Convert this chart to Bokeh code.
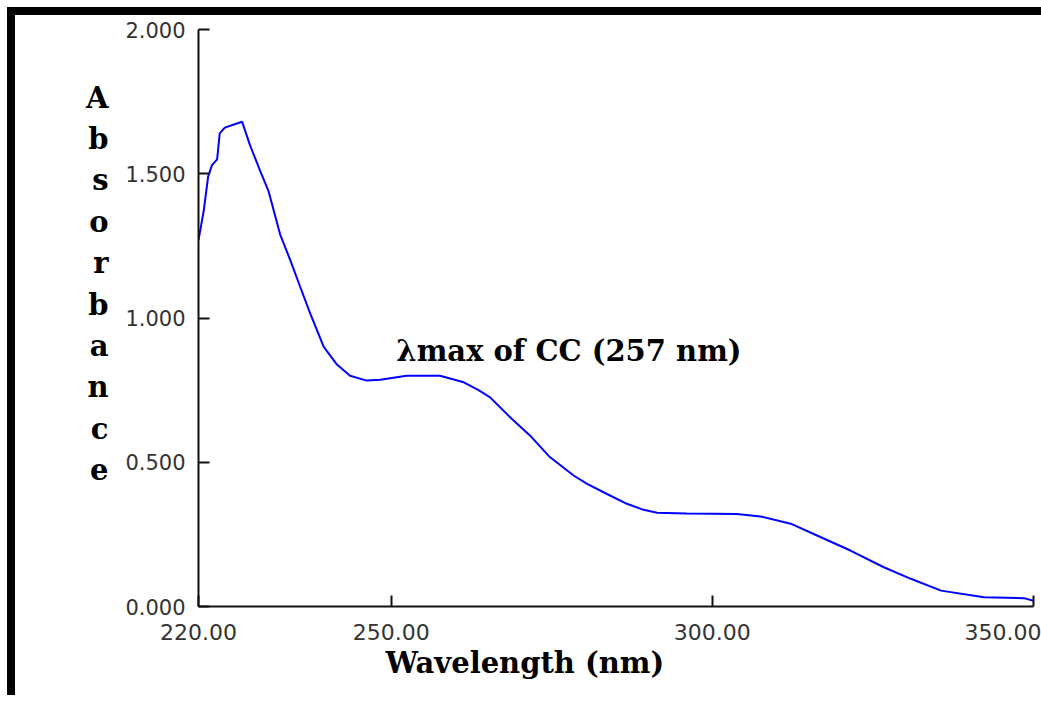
from bokeh.plotting import figure
from bokeh.models import Range1d, FixedTicker, PrintfTickFormatter, Label, LinearAxis, Title
from bokeh.embed import file_html
from bokeh.resources import INLINE

# ---- data ----
wavelength = [220.0, 220.8, 221.5, 222.1, 222.9, 223.3, 224.1, 225.4, 226.8, 228.0,
              229.6, 230.9, 232.7, 234.3, 235.8, 237.4, 239.5, 241.5, 243.6, 246.2,
              248.3, 252.4, 257.6, 261.3, 263.6, 265.4, 268.8, 271.6, 274.7, 278.4,
              280.5, 283.6, 286.7, 289.3, 291.4, 296.0, 303.8, 307.5, 312.2, 316.3,
              321.5, 326.7, 330.9, 335.6, 342.3, 348.5, 350.0]
absorbance = [1.27, 1.37, 1.49, 1.53, 1.55, 1.64, 1.66, 1.67, 1.68, 1.60,
              1.51, 1.44, 1.29, 1.20, 1.11, 1.015, 0.90, 0.84, 0.80, 0.783,
              0.786, 0.80, 0.80, 0.777, 0.75, 0.725, 0.65, 0.593, 0.518, 0.454,
              0.425, 0.39, 0.356, 0.335, 0.325, 0.322, 0.321, 0.312, 0.287, 0.246,
              0.194, 0.136, 0.096, 0.055, 0.032, 0.029, 0.02]
x_ticks = [220, 250, 300, 350]
y_ticks = [0.0, 0.5, 1.0, 1.5, 2.0]
x_title = "Wavelength (nm)"
y_title = "Absorbance"
note_text = "λmax of CC (257 nm)"

p = figure(width=1041, height=695, output_backend="svg", toolbar_location=None,
           x_range=Range1d(220, 350), y_range=Range1d(0, 2),
           min_border_left=198, min_border_right=8, min_border_top=29,
           min_border_bottom=89)
# black picture frame (top and left bars) painted behind a transparent border area
p.styles = {"box-shadow": "inset 7px 7px 0 0 white, inset 15px 15px 0 0 black"}

p.line(wavelength, absorbance, line_color="#0000ff", line_width=2)

p.xgrid.visible = False
p.ygrid.visible = False
p.outline_line_color = None
p.background_fill_color = "white"
p.border_fill_color = None

for ax in (p.xaxis[0], p.yaxis[0]):
    ax.axis_line_color = "#111111"
    ax.axis_line_width = 2
    ax.major_tick_line_color = "#111111"
    ax.major_tick_line_width = 2
    ax.major_tick_in = 11
    ax.major_tick_out = 0
    ax.minor_tick_line_color = None
    ax.major_label_text_font = "DejaVu Sans"
    ax.major_label_text_color = "#333333"

p.xaxis[0].ticker = FixedTicker(ticks=x_ticks)
p.xaxis[0].formatter = PrintfTickFormatter(format="%.2f")
p.xaxis[0].major_label_text_font_size = "22px"
p.xaxis[0].major_label_standoff = 17

p.yaxis[0].ticker = FixedTicker(ticks=y_ticks)
p.yaxis[0].formatter = PrintfTickFormatter(format="%.3f")
p.yaxis[0].major_label_text_font_size = "21px"
p.yaxis[0].major_label_standoff = 13

# vertical stacked y title, drawn as the labels of a bare extra axis on the left
letters = list(y_title)
letter_step = 0.1435
letter_top = 1.764
letter_pos = [round(letter_top - i * letter_step, 4) for i in range(len(letters))]
title_axis = LinearAxis(ticker=FixedTicker(ticks=letter_pos),
                        major_label_overrides={v: t for v, t in zip(letter_pos, letters)})
title_axis.axis_line_color = None
title_axis.major_tick_line_color = None
title_axis.minor_tick_line_color = None
title_axis.major_tick_out = 0
title_axis.major_tick_in = 0
title_axis.major_label_text_font = "DejaVu Serif"
title_axis.major_label_text_font_style = "bold"
title_axis.major_label_text_font_size = "29px"
title_axis.major_label_text_color = "black"
title_axis.major_label_standoff = 14
p.add_layout(title_axis, "left")

# x title as a left-aligned, offset title below the axis
p.add_layout(Title(text=x_title, align="left", offset=187, standoff=2,
                   text_font="DejaVu Serif", text_font_style="bold",
                   text_font_size="29px", text_color="black"), "below")

# annotation
p.add_layout(Label(x=250.8, y=0.887, text=note_text,
                   text_font="DejaVu Serif", text_font_style="bold",
                   text_font_size="29px", text_align="left",
                   text_baseline="middle", text_color="black"))

open("out.html", "w").write(file_html(p, INLINE))
